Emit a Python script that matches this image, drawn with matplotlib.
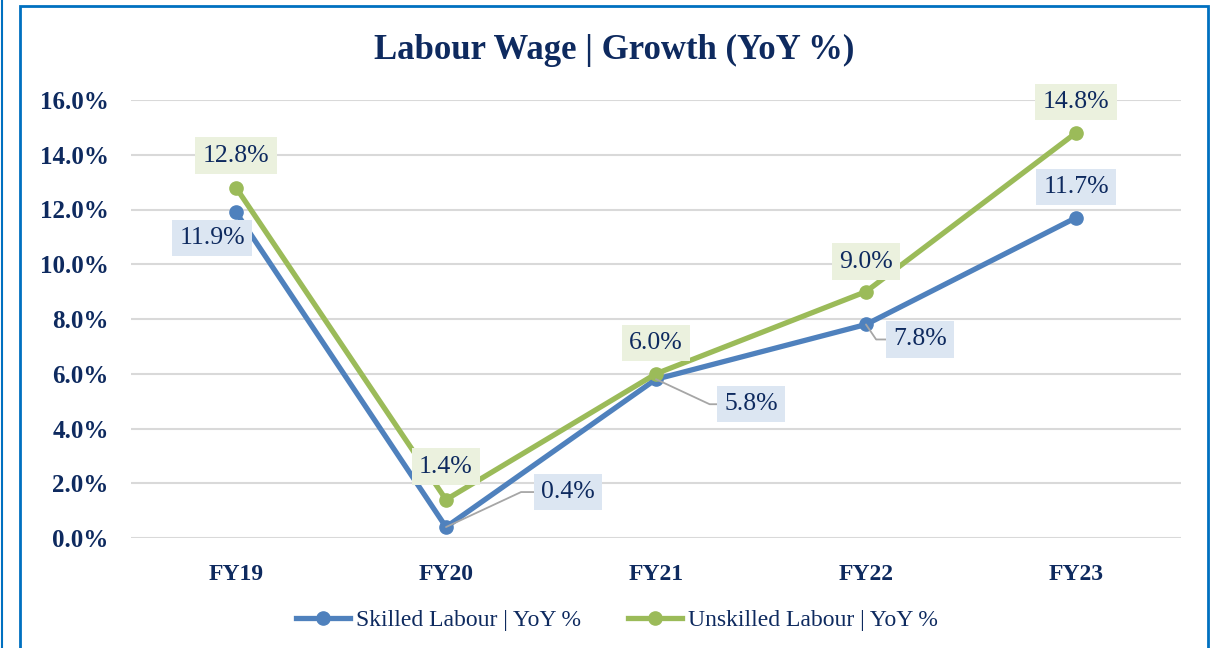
import matplotlib
matplotlib.use("Agg")
import matplotlib.pyplot as plt
from matplotlib.patches import Rectangle
from matplotlib.lines import Line2D

categories = ["FY19", "FY20", "FY21", "FY22", "FY23"]
skilled = [11.9, 0.4, 5.8, 7.8, 11.7]
unskilled = [12.8, 1.4, 6.0, 9.0, 14.8]
skilled_name = "Skilled Labour | YoY %"
unskilled_name = "Unskilled Labour | YoY %"
title = "Labour Wage | Growth (YoY %)"
yticks = [0, 2, 4, 6, 8, 10, 12, 14, 16]

NAVY = "#0E2A5F"
BLUE = "#4F81BD"
GREEN = "#9BBB59"
plt.rcParams["font.family"] = ["Liberation Serif", "DejaVu Serif"]

W, H = 1211, 648
fig = plt.figure(figsize=(W / 100, H / 100), dpi=100)
ax = fig.add_axes([131 / W, 1 - 538 / H, (1181 - 131) / W, (538 - 100) / H])

x = list(range(len(categories)))
ax.plot(x, skilled, color=BLUE, lw=3.8, marker="o", ms=9.5, label=skilled_name, zorder=3,
        solid_joinstyle="round")
ax.plot(x, unskilled, color=GREEN, lw=3.8, marker="o", ms=9.5, label=unskilled_name, zorder=3,
        solid_joinstyle="round")

ax.set_xlim(-0.5, len(categories) - 0.5)
ax.set_ylim(0, 16)
ax.set_yticks(yticks)
ax.set_yticklabels([f"{v:.1f}%" for v in yticks], fontsize=18, fontweight="bold", color=NAVY)
ax.set_xticks(x)
ax.set_xticklabels(categories, fontsize=17, fontweight="bold", color=NAVY)
ax.tick_params(axis="both", length=0)
ax.tick_params(axis="x", pad=19)
ax.tick_params(axis="y", pad=16)
ax.grid(axis="y", color="#D9D9D9", lw=1.5)
ax.set_axisbelow(True)
for s in ax.spines.values():
    s.set_visible(False)

# data labels (offsets in pixels)
g_off = [(0, 32), (0, 33), (0, 31), (0, 30), (0, 31)]
s_off = [(-24, -26), (122, 35), (95, -25), (54, -15), (0, 31)]
s_lead = [None, 25, -25, -56, None]
for i in x:
    ax.annotate(f"{unskilled[i]:.1f}%", (i, unskilled[i]), xytext=g_off[i],
                textcoords="offset pixels", ha="center", va="center", fontsize=18.5, color=NAVY,
                bbox=dict(boxstyle="square,pad=0.28", fc="#EBF1DE", ec="none"), zorder=5)
    ap = None
    if s_lead[i] is not None:
        ap = dict(arrowstyle="-", color="#A6A6A6", lw=1.3,
                  connectionstyle=f"angle,angleA=0,angleB={s_lead[i]},rad=0",
                  shrinkA=0, shrinkB=0)
    ax.annotate(f"{skilled[i]:.1f}%", (i, skilled[i]), xytext=s_off[i],
                textcoords="offset pixels", ha="center", va="center", fontsize=18.5, color=NAVY,
                bbox=dict(boxstyle="square,pad=0.28", fc="#DCE6F2", ec="none"),
                arrowprops=ap, zorder=5)

fig.text(614 / W, 1 - 50 / H, title, ha="center", va="center", fontsize=25,
         fontweight="bold", color=NAVY)

leg = fig.legend(loc="center", bbox_to_anchor=(617 / W, 1 - 620 / H), ncol=2, frameon=False,
                 fontsize=17, handlelength=2.3, handletextpad=0.25, columnspacing=2.0)
for t in leg.get_texts():
    t.set_color(NAVY)

fig.patches.append(Rectangle((20 / W, -0.05), (1208 - 20) / W, 1 - 6 / H + 0.05,
                             transform=fig.transFigure, fill=False, ec="#0070C0", lw=2))
fig.add_artist(Line2D([2 / W, 2 / W], [0, 1], transform=fig.transFigure, color="#0070C0", lw=1.5))

fig.savefig("out.png", dpi=100)
